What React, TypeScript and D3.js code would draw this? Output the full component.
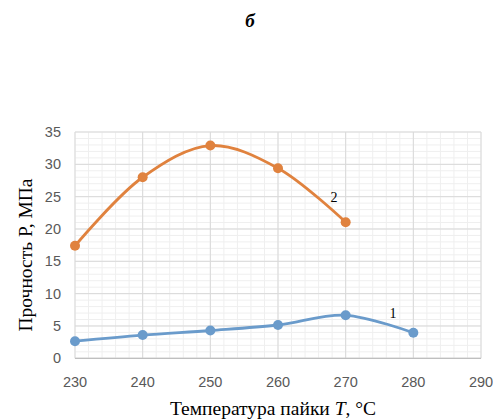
import React from "react";
import * as d3 from "d3";

const temps1 = [230, 240, 250, 260, 270, 280];
const strength1 = [2.65, 3.6, 4.3, 5.15, 6.65, 3.95];
const temps2 = [230, 240, 250, 260, 270];
const strength2 = [17.4, 28.0, 32.9, 29.4, 21.05];
const xTicks = [230, 240, 250, 260, 270, 280, 290];
const yTicks = [0, 5, 10, 15, 20, 25, 30, 35];

const width = 493;
const height = 420;
const tickFont = "'Liberation Sans', Arial, sans-serif";
const serif = "'Liberation Serif', 'Times New Roman', serif";

const App = () => {
  const x = d3.scaleLinear().domain([230, 290]).range([75, 481]);
  const y = d3.scaleLinear().domain([0, 35]).range([358.3, 132]);

  const line = d3
    .line<[number, number]>()
    .x((d) => x(d[0]))
    .y((d) => y(d[1]))
    .curve(d3.curveCatmullRom.alpha(0.5));

  const s1 = temps1.map((t, i) => [t, strength1[i]] as [number, number]);
  const s2 = temps2.map((t, i) => [t, strength2[i]] as [number, number]);

  const minorX = d3.range(230, 290.01, 2);
  const minorY = d3.range(0, 35.01, 1);

  return (
    <svg
      width={width}
      height={height}
      style={{ position: "absolute", left: 0, top: 0, background: "#fff" }}
    >
      <text
        x={250}
        y={27}
        textAnchor="middle"
        fontFamily={serif}
        fontStyle="italic"
        fontWeight="bold"
        fontSize={19}
      >
        б
      </text>

      <g>
        {minorX.map((v) => (
          <line key={"mx" + v} x1={x(v)} x2={x(v)} y1={y(35)} y2={y(0)} stroke="#efefef" />
        ))}
        {minorY.map((v) => (
          <line key={"my" + v} x1={x(230)} x2={x(290)} y1={y(v)} y2={y(v)} stroke="#efefef" />
        ))}
        {xTicks.map((v) => (
          <line key={"gx" + v} x1={x(v)} x2={x(v)} y1={y(35)} y2={y(0)} stroke="#d9d9d9" />
        ))}
        {yTicks.map((v) => (
          <line key={"gy" + v} x1={x(230)} x2={x(290)} y1={y(v)} y2={y(v)} stroke="#d9d9d9" />
        ))}
        <line x1={x(230)} x2={x(290)} y1={y(0)} y2={y(0)} stroke="#bfbfbf" strokeWidth={1.2} />
      </g>

      <g fontFamily={tickFont} fontSize={14.5} fill="#595959">
        {yTicks.map((v) => (
          <text key={"yt" + v} x={61} y={y(v)} dy="0.35em" textAnchor="end">
            {v}
          </text>
        ))}
        {xTicks.map((v) => (
          <text key={"xt" + v} x={x(v)} y={382} dy="0.35em" textAnchor="middle">
            {v}
          </text>
        ))}
      </g>

      <path d={line(s2) ?? ""} fill="none" stroke="#e0823e" strokeWidth={2.8} />
      {s2.map((d, i) => (
        <circle key={"c2" + i} cx={x(d[0])} cy={y(d[1])} r={5} fill="#e0823e" />
      ))}
      <path d={line(s1) ?? ""} fill="none" stroke="#6a9bcb" strokeWidth={2.8} />
      {s1.map((d, i) => (
        <circle key={"c1" + i} cx={x(d[0])} cy={y(d[1])} r={5} fill="#6a9bcb" />
      ))}

      <text x={334} y={197} dy="0.35em" textAnchor="middle" fontFamily={serif} fontSize={14}>
        2
      </text>
      <text x={393} y={313} dy="0.35em" textAnchor="middle" fontFamily={serif} fontSize={14}>
        1
      </text>

      <text
        transform="translate(25,255) rotate(-90)"
        textAnchor="middle"
        dy="0.35em"
        fontFamily={serif}
        fontSize={19.5}
      >
        Прочность P, МПа
      </text>
      <text x={273} y={408} dy="0.35em" textAnchor="middle" fontFamily={serif} fontSize={19.5}>
        Температура пайки <tspan fontStyle="italic">T</tspan>, °C
      </text>
    </svg>
  );
};

export default App;
